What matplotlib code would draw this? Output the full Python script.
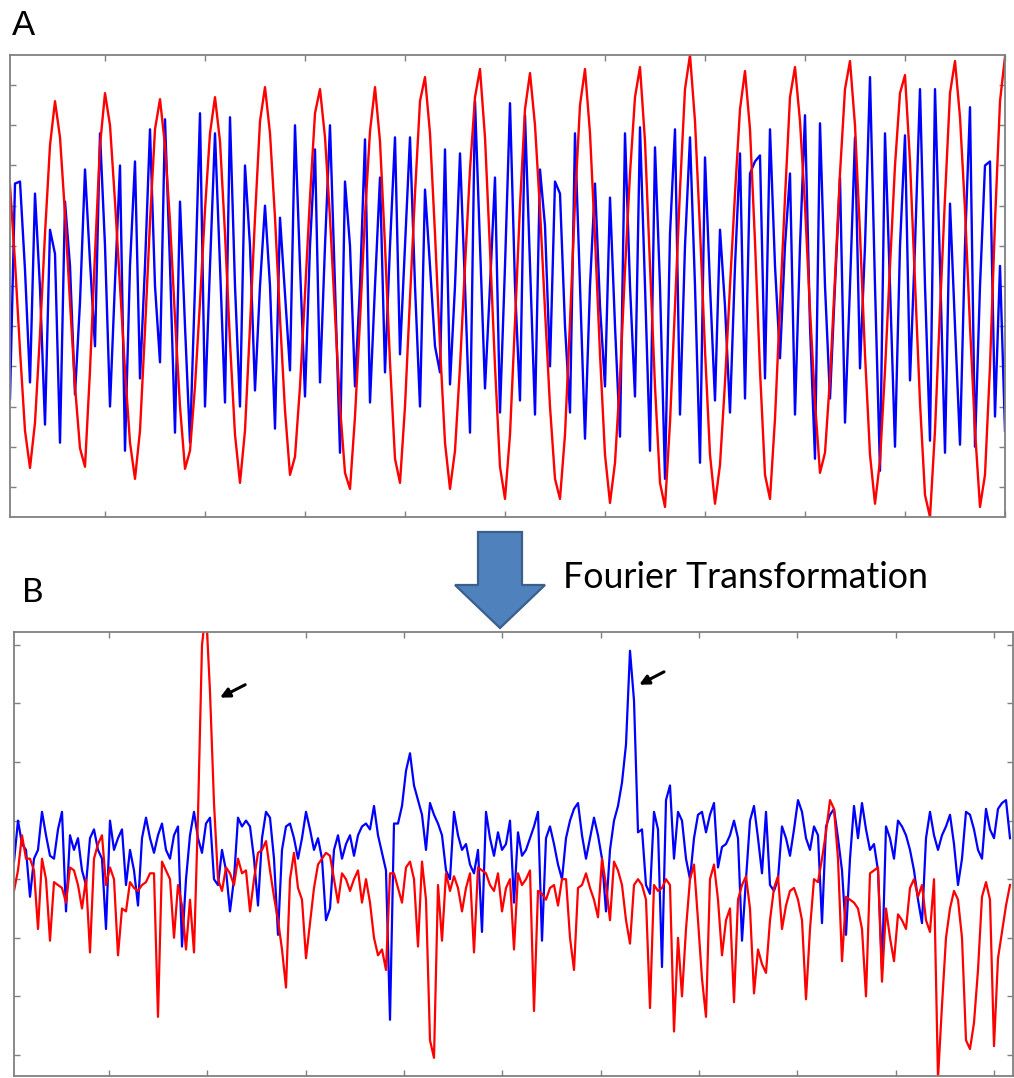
import numpy as np
import matplotlib
matplotlib.use("Agg")
import matplotlib.pyplot as plt
from matplotlib.patches import Polygon

W, H = 1014, 1078

# panel A: two time signals, one sample every time step
red_a = [
    7.5, 5.6, 3.4, 1.4, 0.47, 1.6, 3.8, 6.3, 8.5, 9.6,
    8.7, 6.8, 4.6, 2.5, 0.96, 0.5, 2.9, 5.8, 8.5, 9.8,
    9.0, 7.1, 5.0, 2.9, 1.1, 0.2, 1.4, 3.9, 6.6, 8.9,
    9.65, 8.5, 6.6, 4.2, 2.0, 0.45, 0.9, 2.5, 4.6, 6.9,
    8.8, 9.7, 8.6, 6.3, 3.6, 1.3, 0.1, 1.4, 4.0, 6.7,
    9.1, 9.95, 8.8, 6.7, 4.2, 1.9, 0.3, 0.75, 2.5, 4.8,
    7.2, 9.3, 9.9, 8.7, 6.7, 4.3, 2.0, 0.35, -0.05, 1.75,
    4.15, 6.75, 8.85, 9.95, 8.6, 6.0, 3.1, 0.7, 0.1, 2.0,
    4.7, 7.3, 9.6, 10.2, 8.8, 6.3, 3.5, 1.1, -0.05, 0.9,
    3.0, 5.5, 7.9, 9.7, 10.4, 8.7, 5.9, 3.0, 0.5, -0.3,
    1.3, 4.1, 7.0, 9.4, 10.3, 9.0, 6.9, 4.4, 2.0, 0.2,
    -0.3, 1.3, 4.1, 7.1, 9.5, 10.4, 8.8, 6.2, 3.3, 0.8,
    -0.4, 0.6, 2.7, 5.4, 7.8, 9.7, 10.45, 8.6, 5.5, 2.5,
    0.1, -0.5, 1.6, 4.5, 7.4, 9.9, 10.75, 9.1, 6.4, 3.4,
    0.8, -0.42, 0.55, 2.6, 5.0, 7.3, 9.4, 10.35, 8.9, 6.1,
    2.9, 0.3, -0.3, 1.7, 4.5, 7.2, 9.7, 10.45, 9.1, 7.0,
    4.4, 2.1, 0.35, 0.85, 2.7, 5.2, 7.8, 9.9, 10.6, 9.0,
    6.3, 3.3, 0.8, -0.42, 0.65, 2.9, 5.5, 8.0, 9.8, 10.25,
    8.1, 5.1, 2.1, -0.2, -0.75, 1.4, 4.4, 7.2, 9.8, 10.6,
    9.2, 6.9, 4.0, 1.4, -0.5, 0.3, 3.0, 6.6, 9.6, 10.7,
]
blue_a = [
    2.2, 7.55, 7.6, 5.4, 2.6, 7.3, 4.95, 1.55, 6.4, 5.8,
    1.1, 7.1, 5.5, 2.3, 4.6, 7.9, 5.6, 3.5, 8.8, 6.0,
    2.0, 5.1, 8.0, 0.9, 5.5, 8.1, 2.7, 5.5, 8.9, 5.0,
    3.1, 9.15, 5.5, 1.35, 7.1, 4.0, 1.1, 5.0, 9.3, 2.0,
    5.5, 8.8, 5.5, 2.1, 9.2, 5.0, 2.0, 8.0, 6.0, 2.4,
    5.0, 7.0, 5.0, 1.45, 6.7, 4.8, 2.9, 9.0, 5.5, 2.25,
    6.0, 8.4, 2.6, 6.0, 9.0, 5.0, 0.85, 7.6, 6.0, 2.5,
    5.0, 8.65, 2.1, 5.0, 7.7, 2.85, 6.0, 8.7, 3.3, 6.0,
    8.7, 5.0, 2.0, 7.4, 5.5, 3.5, 2.85, 8.4, 2.55, 5.0,
    8.3, 5.0, 1.35, 9.6, 6.0, 2.45, 5.0, 7.7, 1.85, 5.5,
    9.55, 5.0, 2.15, 9.25, 5.5, 1.8, 7.9, 6.5, 3.0, 7.6,
    7.3, 4.0, 1.85, 8.8, 5.0, 1.2, 5.0, 7.55, 4.5, 2.5,
    7.2, 4.0, 1.25, 8.8, 5.0, 2.25, 8.95, 5.0, 0.9, 8.45,
    5.0, 0.2, 6.3, 8.9, 1.8, 6.0, 8.7, 5.0, 0.6, 8.2,
    5.0, 2.15, 6.4, 4.5, 1.85, 5.5, 8.3, 2.2, 7.8, 8.1,
    8.25, 2.7, 8.9, 5.5, 3.2, 6.0, 7.8, 1.8, 6.0, 9.25,
    4.0, 0.7, 9.05, 5.0, 2.2, 5.0, 7.7, 1.6, 5.0, 8.7,
    2.95, 6.0, 10.2, 5.0, 0.4, 8.8, 5.0, 1.0, 6.0, 8.75,
    2.65, 6.0, 9.9, 5.0, 1.15, 9.9, 5.5, 0.85, 7.05, 4.0,
    1.05, 6.0, 9.45, 1.0, 5.0, 8.0, 8.1, 1.75, 5.5, 1.4,
]

# panel B: the two spectra
blue_b = [
    3.3, 4.0, 3.6, 3.5, 2.7, 3.35, 3.5, 4.15, 3.75, 3.4,
    3.35, 3.85, 4.15, 2.45, 3.75, 3.5, 3.7, 3.15, 2.9, 3.7,
    3.85, 3.5, 3.35, 2.15, 4.0,
    3.5, 3.7, 3.85, 2.9, 3.5, 3.15, 2.55, 3.7, 4.05, 3.7,
    3.45, 3.75, 3.95, 3.5, 3.35, 3.75, 3.9, 1.85, 3.0, 3.75,
    4.15, 3.7, 3.45, 3.95, 4.05,
    3.0, 2.9, 3.5, 3.15, 2.45, 3.0, 4.05, 3.9, 4.0, 3.9,
    3.35, 2.55, 3.7, 4.15, 4.05, 3.35, 2.05, 3.5, 3.9, 3.95,
    3.7, 3.35, 3.7, 4.15, 3.85,
    3.5, 3.7, 3.35, 2.3, 2.5, 3.5, 3.75, 3.35, 3.6, 3.75,
    3.4, 3.75, 3.9, 3.95, 3.85, 4.25, 3.75, 3.45, 3.15, 0.6,
    3.95, 3.95, 4.25, 4.85, 5.15,
    4.6, 4.35, 4.1, 3.5, 4.3, 4.1, 3.95, 3.75, 3.15, 3.0,
    4.15, 3.75, 3.5, 3.6, 3.25, 3.1, 3.5, 2.1, 4.15, 3.7,
    3.4, 3.8, 3.5, 3.6, 4.0,
    2.6, 3.8, 3.4, 3.5, 3.7, 3.9, 4.15, 1.95, 3.7, 3.9,
    3.6, 3.25, 3.0, 3.7, 4.0, 4.2, 4.3, 3.75, 3.35, 3.7,
    4.05, 3.75, 3.35, 2.45, 3.5,
    4.0, 4.25, 4.65, 5.3, 6.9, 6.05, 3.8, 3.85, 2.9, 2.75,
    4.15, 3.85, 1.5, 4.35, 4.6, 3.35, 4.15, 4.0, 3.35, 3.0,
    3.7, 4.1, 4.15, 3.8, 4.1,
    4.3, 3.2, 3.55, 3.6, 3.75, 4.0, 3.7, 1.95, 3.0, 4.0,
    4.25, 3.7, 3.1, 4.15, 2.9, 2.8, 3.0, 3.9, 3.7, 3.4,
    3.85, 4.35, 4.15, 3.7, 3.5,
    3.9, 3.75, 2.25, 3.9, 4.1, 4.2, 3.7, 3.15, 2.05, 3.35,
    4.25, 3.7, 4.3, 3.85, 3.5, 3.6, 3.15, 1.45, 3.9, 3.7,
    3.35, 4.0, 3.9, 3.75, 3.5,
    3.15, 2.65, 2.25, 3.7, 4.15, 3.75, 3.5, 3.75, 3.9, 4.1,
    3.6, 2.9, 3.35, 4.15, 4.1, 3.85, 3.5, 3.35, 4.2, 3.85,
    3.7, 4.2, 4.3, 4.35, 3.7,
]
red_b = [
    2.8, 3.15, 3.75, 3.35, 3.35, 3.15, 2.15, 3.35, 3.0, 1.95,
    2.95, 2.9, 2.85, 2.6, 3.2, 3.15, 2.9, 2.5, 3.0, 1.75,
    3.35, 3.6, 3.75, 2.9, 3.2,
    3.0, 1.7, 2.5, 2.45, 2.95, 2.85, 2.8, 2.9, 2.95, 3.1,
    3.1, 0.65, 3.3, 3.15, 3.0, 2.0, 2.9, 2.55, 1.8, 2.65,
    1.75, 4.1, 7.0, 7.6, 6.2,
    4.3, 3.0, 2.8, 3.2, 3.1, 2.9, 3.35, 3.1, 3.15, 2.45,
    3.0, 3.45, 3.5, 3.65, 3.15, 2.7, 2.3, 1.8, 1.15, 3.0,
    3.45, 2.85, 2.65, 1.65, 2.25,
    2.85, 3.25, 3.35, 3.45, 3.4, 3.0, 2.6, 3.1, 3.0, 2.8,
    3.0, 3.15, 2.6, 3.0, 2.6, 2.0, 1.7, 1.8, 1.45, 3.1,
    3.1, 2.85, 2.6, 3.2, 3.3,
    3.0, 1.85, 3.3, 2.65, 0.25, -0.05, 2.9, 1.95, 3.1, 2.8,
    3.05, 2.85, 2.45, 2.85, 3.1, 1.75, 3.2, 3.15, 3.1, 2.9,
    2.8, 3.1, 2.45, 2.85, 3.0,
    1.8, 3.1, 2.9, 3.0, 3.15, 0.75, 2.8, 2.75, 2.65, 2.85,
    2.9, 2.55, 3.0, 3.0, 2.0, 1.45, 2.85, 2.9, 3.1, 2.85,
    2.65, 2.35, 3.35, 2.9, 2.3,
    3.3, 3.15, 2.9, 2.3, 1.9, 2.9, 3.0, 2.9, 2.65, 0.8,
    2.9, 2.8, 2.85, 3.0, 2.9, 0.4, 2.0, 1.0, 2.15, 3.0,
    3.25, 2.3, 1.3, 0.65, 3.0,
    3.25, 2.65, 1.7, 2.3, 2.5, 0.9, 2.65, 2.9, 3.05, 2.5,
    1.05, 1.8, 1.55, 1.4, 2.3, 2.85, 3.05, 2.15, 2.55, 2.8,
    2.85, 2.65, 2.3, 0.95, 2.15,
    3.0, 2.95, 3.35, 3.8, 4.35, 4.2, 3.35, 1.6, 2.7, 2.65,
    2.6, 2.5, 2.15, 1.0, 3.1, 3.15, 3.2, 1.25, 2.5, 2.0,
    1.6, 2.4, 2.3, 2.15, 2.85,
    3.0, 2.7, 2.9, 2.3, 2.1, 3.0, -0.4, 0.85, 2.0, 2.5,
    2.8, 2.65, 2.0, 0.25, 0.1, 0.55, 1.45, 2.7, 2.95, 2.65,
    0.15, 1.65, 2.1, 2.55, 2.9,
]

RED = "#ff0000"
BLUE = "#0000ff"
GREY = "#808080"


def box(x0, y0, x1, y1):
    # pixel box (top-left origin) -> figure fraction rect
    return [x0 / W, 1 - y1 / H, (x1 - x0) / W, (y1 - y0) / H]


def frame(ax):
    for s in ax.spines.values():
        s.set_color(GREY)
        s.set_linewidth(1.3)
    ax.tick_params(direction="in", length=4, width=1, color=GREY,
                   top=True, right=True,
                   labelbottom=False, labelleft=False)


fig = plt.figure(figsize=(W / 100, H / 100), dpi=100)

# --- A: signals
ax1 = fig.add_axes(box(10, 55, 1005, 517))
t = np.arange(len(red_a))
ax1.plot(t, blue_a, color=BLUE, lw=1.7)
ax1.plot(t, red_a, color=RED, lw=1.7)
ax1.set_xlim(0, len(red_a) - 1)
ax1.set_ylim(-0.75, 10.75)
ax1.set_xticks(np.arange(19, 200, 20))
ax1.set_yticks(np.arange(0, 11))
frame(ax1)

# --- B: spectra
ax2 = fig.add_axes(box(14, 632, 1013, 1076))
f = np.arange(len(red_b))
ax2.plot(f, blue_b, color=BLUE, lw=1.6)
ax2.plot(f, red_b, color=RED, lw=1.6)
ax2.set_xlim(0, 249.75)
ax2.set_ylim(-0.36, 7.22)
ax2.set_xticks(np.linspace(23.75, 245, 10))
ax2.set_yticks(np.arange(0, 8))
frame(ax2)

arrow = dict(arrowstyle="-|>", color="black", lw=2.2, mutation_scale=14,
             shrinkA=0, shrinkB=0)
ax2.annotate("", xy=(51.5, 6.1), xytext=(57.8, 6.32), arrowprops=arrow)
ax2.annotate("", xy=(156.3, 6.32), xytext=(162.5, 6.54), arrowprops=arrow)

# block arrow between the panels
pts = [(478, 532), (522, 532), (522, 585), (545, 585), (500, 628),
       (455, 585), (478, 585)]
fig.patches.append(Polygon([(x / W, 1 - y / H) for x, y in pts], closed=True,
                           transform=fig.transFigure, facecolor="#4f81bd",
                           edgecolor="#3a5f8b", lw=1.6, zorder=5))

fig.text(12 / W, 1 - 35 / H, "A", fontsize=25, family="Liberation Sans",
         va="baseline", ha="left")
fig.text(22 / W, 1 - 602 / H, "B", fontsize=24, family="Lato",
         va="baseline", ha="left")
label = fig.text(563 / W, 1 - 588 / H, "Fourier Transformation", fontsize=30,
                 family="Lato", va="baseline", ha="left")

# squeeze the caption so it spans the same width as the arrow gap
fig.canvas.draw()
wpx = label.get_window_extent().width
label.set_fontsize(30 * 365 / wpx)

fig.savefig("out.png", dpi=100)
